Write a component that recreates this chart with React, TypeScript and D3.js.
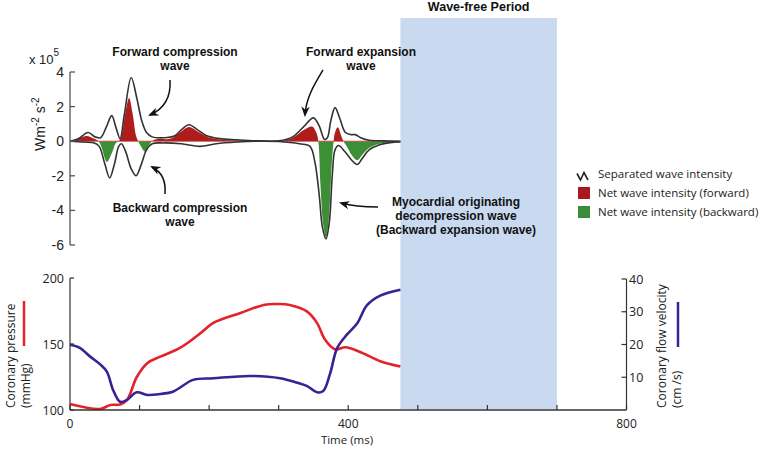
import React from "react";
import * as d3 from "d3";

// ---------- data ----------
// Separated wave intensity, forward (x 10^5 W m^-2 s^-2)
const fwdT = [0, 12, 26, 36, 44, 52, 60, 66, 72, 78, 88, 96, 103, 110, 118, 135, 150, 160, 171, 182, 195, 215, 240, 270, 300, 320, 335, 350, 358, 366, 370, 375, 381, 388, 396, 404, 410, 418, 430, 450, 475];
const fwdV = [0, 0.15, 0.5, 0.25, 0.2, 0.8, 1.48, 0.8, 0.15, 1.5, 3.68, 2.5, 1.2, 0.5, 0.25, 0.2, 0.3, 0.65, 0.95, 0.7, 0.35, 0.15, 0.08, 0.02, 0.02, 0.25, 0.8, 1.35, 0.9, 0.1, 0.2, 1.2, 1.94, 1.3, 0.5, 0.38, 0.38, 0.2, 0.05, 0.02, 0];
// Separated wave intensity, backward
const bwdT = [0, 20, 35, 42, 50, 57, 64, 70, 74, 80, 88, 95, 102, 110, 118, 135, 160, 187, 210, 240, 270, 300, 330, 345, 352, 358, 363, 368, 373, 377, 381, 386, 395, 405, 413, 420, 430, 445, 460, 475];
const bwdV = [0, -0.05, -0.1, -0.3, -1.3, -2.12, -1.3, -0.3, -0.15, -0.6, -1.6, -2.0, -1.4, -0.5, -0.15, -0.1, -0.15, -0.3, -0.15, -0.05, 0, -0.02, -0.15, -0.3, -1.2, -3.0, -5.0, -5.65, -4.6, -2.0, -0.5, -0.25, -0.6, -1.1, -1.35, -1.0, -0.5, -0.2, -0.08, -0.05];
// Net wave intensity
const netT = [0, 12, 24, 34, 41, 45, 53, 60, 66, 70, 74, 79, 85, 90, 95, 98, 102, 108, 114, 118, 125, 145, 158, 171, 184, 198, 215, 240, 270, 300, 320, 336, 348, 354, 357, 360, 364, 368, 372, 376, 379, 381, 385, 390, 393, 398, 405, 413, 420, 430, 445, 460, 475];
const netV = [0, 0.15, 0.3, 0.15, 0, -0.3, -1.2, -0.7, -0.1, 0, 0.3, 1.5, 2.5, 1.6, 0.3, 0, -0.3, -0.6, -0.2, 0, 0.12, 0.15, 0.5, 0.82, 0.55, 0.25, 0.1, 0.04, 0, 0, 0.2, 0.65, 0.85, 0.5, 0, -2.5, -4.8, -5.6, -4.5, -1.5, 0, 0.5, 0.8, 0.3, 0, -0.3, -0.8, -1.1, -0.8, -0.4, -0.15, -0.08, -0.05];
// Coronary pressure (mmHg)
const presT = [0, 43, 58, 72, 82, 96, 111, 130, 158, 187, 206, 245, 280, 300, 316, 341, 355, 367, 381, 396, 417, 446, 475];
const presV = [104.5, 100.8, 103.8, 104.2, 107.6, 125, 135.5, 140.4, 147, 158, 166, 173.5, 179.8, 180.3, 179.5, 174.5, 166, 153, 146, 147.5, 144, 137, 133];
// Coronary flow velocity (cm/s)
const velT = [0, 14, 29, 43, 53, 62, 72, 82, 96, 111, 130, 148, 177, 206, 259, 302, 327, 341, 355, 364, 374, 384, 398, 413, 427, 446, 475];
const velV = [19.9, 19, 16.3, 14, 11.7, 6.1, 2.5, 3.1, 5.4, 4.6, 4.9, 5.6, 9.2, 9.7, 10.4, 9.7, 8.3, 7.3, 5.4, 5.8, 11.2, 18.9, 23, 26.5, 32, 34.9, 36.7];

const topTicks = [4, 2, 0, -2, -4, -6];
const timeTicks = [0, 100, 200, 300, 400, 500, 600, 700, 800];
const timeLabels = [0, 400, 800];
const presTicks = [100, 150, 200];
const velTicks = [10, 20, 30, 40];
const waveFree = [475, 700];

const legendItems = ["Separated wave intensity", "Net wave intensity (forward)", "Net wave intensity (backward)"];

// ---------- component ----------
export default function App() {
  const W = 770, H = 453;
  const x = d3.scaleLinear().domain([0, 800]).range([70, 626.5]);
  const yTop = d3.scaleLinear().domain([-6, 4]).range([245, 72]);
  const yP = d3.scaleLinear().domain([100, 200]).range([410, 278]);
  const yV = d3.scaleLinear().domain([0, 40]).range([410, 279]);

  const curve = d3.curveCatmullRom.alpha(0.5);
  const zip = (t: number[], v: number[]) => t.map((tt, i) => [tt, v[i]] as [number, number]);

  const lineTop = d3.line<[number, number]>().x(d => x(d[0])).y(d => yTop(d[1])).curve(curve);
  const areaNet = d3.area<[number, number]>().x(d => x(d[0])).y0(yTop(0)).y1(d => yTop(d[1])).curve(curve);
  const lineP = d3.line<[number, number]>().x(d => x(d[0])).y(d => yP(d[1])).curve(curve);
  const lineV = d3.line<[number, number]>().x(d => x(d[0])).y(d => yV(d[1])).curve(curve);

  const net = zip(netT, netV);
  const y0 = yTop(0);

  const annFont = { fontFamily: "'Liberation Sans', Arial, sans-serif", fontWeight: 700, fontSize: 12, fill: "#111" } as const;
  const myriad = "'Open Sans', 'Noto Sans', sans-serif";
  const axisColor = "#333";

  return (
    <svg width={W} height={H} viewBox={`0 0 ${W} ${H}`} style={{ position: "absolute", left: 0, top: 0, background: "#fff" }}>
      <defs>
        <clipPath id="clipPos"><rect x={0} y={0} width={W} height={y0} /></clipPath>
        <clipPath id="clipNeg"><rect x={0} y={y0} width={W} height={H - y0} /></clipPath>
        <marker id="arr" viewBox="0 0 10 10" refX="8" refY="5" markerWidth="7" markerHeight="7" orient="auto-start-reverse">
          <path d="M0,1 L10,5 L0,9 L3,5 Z" fill="#111" />
        </marker>
      </defs>

      {/* wave-free period band */}
      <rect x={x(waveFree[0])} y={18} width={x(waveFree[1]) - x(waveFree[0])} height={409 - 18} fill="#c8d9f0" />
      <text x={(x(waveFree[0]) + x(waveFree[1])) / 2} y={11} textAnchor="middle" {...annFont} fontSize={12.5}>Wave-free Period</text>

      {/* ---------- top panel: wave intensity ---------- */}
      <path d={areaNet(net) || ""} fill="#b01c1c" clipPath="url(#clipPos)" />
      <path d={areaNet(net) || ""} fill="#3d8f35" clipPath="url(#clipNeg)" />
      <line x1={x(0)} x2={x(475)} y1={y0} y2={y0} stroke="#c43030" strokeWidth={0.8} />
      <path d={lineTop(zip(fwdT, fwdV)) || ""} fill="none" stroke="#333" strokeWidth={1.6} />
      <path d={lineTop(zip(bwdT, bwdV)) || ""} fill="none" stroke="#333" strokeWidth={1.6} />

      <line x1={70} x2={70} y1={yTop(4)} y2={yTop(-6)} stroke="#555" strokeWidth={1.3} />
      {topTicks.map(t => (
        <g key={t}>
          <line x1={70} x2={75} y1={yTop(t)} y2={yTop(t)} stroke="#555" strokeWidth={1.3} />
          <text x={64} y={yTop(t)} dy="0.36em" textAnchor="end" fontFamily="'Liberation Sans', Arial, sans-serif" fontSize={14} fill="#222">{t}</text>
        </g>
      ))}
      <text x={29} y={64} fontFamily="'Liberation Sans', Arial, sans-serif" fontSize={13} fill="#222">x 10<tspan dy={-8} fontSize={10}>5</tspan></text>
      <text transform="translate(45,151) rotate(-90)" fontFamily="'Liberation Sans', Arial, sans-serif" fontSize={14} fill="#222">
        Wm<tspan dy={-6} fontSize={10}>-2</tspan><tspan dy={6}> s</tspan><tspan dy={-6} fontSize={10}>-2</tspan>
      </text>

      {/* annotations */}
      <text x={175} y={56} textAnchor="middle" {...annFont}>Forward compression</text>
      <text x={175} y={70} textAnchor="middle" {...annFont}>wave</text>
      <text x={361} y={56} textAnchor="middle" {...annFont}>Forward expansion</text>
      <text x={361} y={70} textAnchor="middle" {...annFont}>wave</text>
      <text x={180} y={212} textAnchor="middle" {...annFont}>Backward compression</text>
      <text x={180} y={226} textAnchor="middle" {...annFont}>wave</text>
      <text x={456} y={206} textAnchor="middle" {...annFont}>Myocardial originating</text>
      <text x={456} y={220} textAnchor="middle" {...annFont}>decompression wave</text>
      <text x={456} y={234} textAnchor="middle" {...annFont}>(Backward expansion wave)</text>

      <path d="M170,80 C171,95 166,108 150,115" fill="none" stroke="#111" strokeWidth={1.5} markerEnd="url(#arr)" />
      <path d="M323,70 C314,85 306,98 305,115" fill="none" stroke="#111" strokeWidth={1.5} markerEnd="url(#arr)" />
      <path d="M165,194 C166,182 162,172 152,167" fill="none" stroke="#111" strokeWidth={1.5} markerEnd="url(#arr)" />
      <path d="M378,207 C366,207 352,206 341,203" fill="none" stroke="#111" strokeWidth={1.5} markerEnd="url(#arr)" />

      {/* legend */}
      <path d="M577,173.5 L580.5,180 L584,172.5 L588,180" fill="none" stroke="#222" strokeWidth={1.6} />
      <text x={598} y={178} fontFamily={myriad} fontSize={11.5} fill="#222">{legendItems[0]}</text>
      <rect x={578} y={187} width={12} height={12} fill="#a8181c" />
      <text x={598} y={197} fontFamily={myriad} fontSize={11.5} fill="#222">{legendItems[1]}</text>
      <rect x={578} y={206} width={12} height={12} fill="#3c8c3c" />
      <text x={598} y={216} fontFamily={myriad} fontSize={11.5} fill="#222">{legendItems[2]}</text>

      {/* ---------- bottom panel: pressure & velocity ---------- */}
      <path d={lineP(zip(presT, presV)) || ""} fill="none" stroke="#e5212a" strokeWidth={2.6} />
      <path d={lineV(zip(velT, velV)) || ""} fill="none" stroke="#3b2196" strokeWidth={2.6} />

      <line x1={70} x2={70} y1={yP(200)} y2={yP(100)} stroke={axisColor} strokeWidth={1.2} />
      <line x1={x(0)} x2={x(800)} y1={410} y2={410} stroke={axisColor} strokeWidth={1.4} />
      <line x1={x(800)} x2={x(800)} y1={yV(40)} y2={yV(0)} stroke={axisColor} strokeWidth={1.2} />
      {timeTicks.map(t => (
        <line key={t} x1={x(t)} x2={x(t)} y1={410} y2={405} stroke={axisColor} strokeWidth={1.2} />
      ))}
      {timeLabels.map(t => (
        <text key={t} x={x(t)} y={428} textAnchor="middle" fontFamily={myriad} fontSize={12} fill="#222">{t}</text>
      ))}
      <text x={347} y={444} textAnchor="middle" fontFamily={myriad} fontSize={11.5} fill="#222">Time (ms)</text>
      {presTicks.map(t => (
        <g key={t}>
          <line x1={70} x2={74} y1={yP(t)} y2={yP(t)} stroke={axisColor} strokeWidth={1.2} />
          <text x={64} y={yP(t)} dy="0.36em" textAnchor="end" fontFamily={myriad} fontSize={12.5} fill="#222">{t}</text>
        </g>
      ))}
      {velTicks.map(t => (
        <g key={t}>
          <line x1={x(800) - 5} x2={x(800)} y1={yV(t)} y2={yV(t)} stroke={axisColor} strokeWidth={1.2} />
          <text x={629} y={yV(t)} dy="0.36em" fontFamily={myriad} fontSize={12.5} fill="#222">{t}</text>
        </g>
      ))}

      <text transform="translate(15,408) rotate(-90)" fontFamily={myriad} fontSize={12} fill="#222">Coronary pressure</text>
      <text transform="translate(30,408) rotate(-90)" fontFamily={myriad} fontSize={12} fill="#222">(mmHg)</text>
      <line x1={24} x2={24} y1={301} y2={346} stroke="#e5212a" strokeWidth={2.5} />
      <text transform="translate(666,408) rotate(-90)" fontFamily={myriad} fontSize={12} fill="#222">Coronary flow velocity</text>
      <text transform="translate(681,408) rotate(-90)" fontFamily={myriad} fontSize={12} fill="#222">(cm /s)</text>
      <line x1={678} x2={678} y1={302} y2={347} stroke="#3b2196" strokeWidth={2.5} />
    </svg>
  );
}
